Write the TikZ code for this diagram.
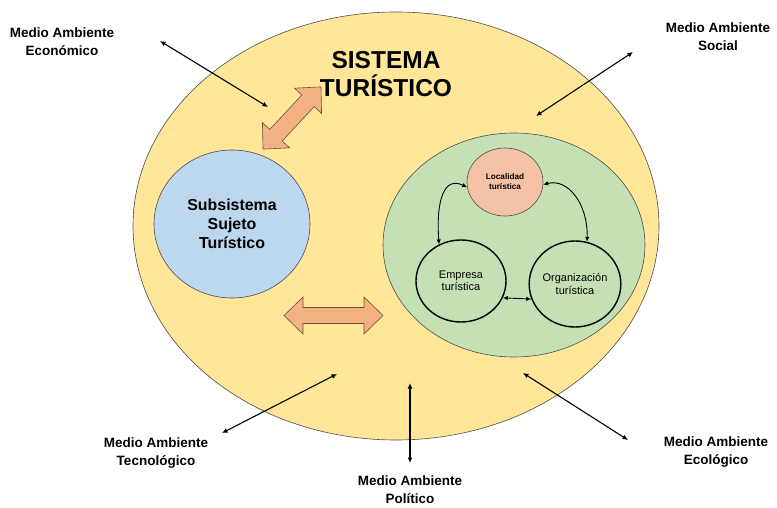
\documentclass[tikz,border=0pt]{standalone}
\usepackage{fontspec}
\setmainfont{Liberation Sans}
\usetikzlibrary{shapes.geometric,arrows.meta}
\definecolor{sisfill}{HTML}{FFE699}
\definecolor{sujfill}{HTML}{BDD7EE}
\definecolor{objfill}{HTML}{C5E0B4}
\definecolor{locfill}{HTML}{F6C2A6}
\definecolor{arrfill}{HTML}{F4B183}
\definecolor{arrline}{HTML}{6E5034}
\tikzset{
  envlabel/.style={font=\bfseries\fontsize{13.5}{18}\selectfont, align=center},
  envarrow/.style={{Latex[length=5.5pt,width=5pt]}-{Latex[length=5.5pt,width=5pt]}, line width=1.1pt},
  relarrow/.style={{Latex[length=5pt,width=4.5pt]}-{Latex[length=5pt,width=4.5pt]}, line width=0.9pt},
  blob/.style={ellipse, inner sep=0pt, draw=black!70, line width=0.6pt},
  subunit/.style={ellipse, inner sep=0pt, draw=black, line width=1.4pt, fill=objfill,
    minimum width=#1, font=\fontsize{11}{12.5}\selectfont, align=center},
  blockarrow/.style={fill=arrfill, draw=arrline, line width=0.6pt},
}
\begin{document}
\begin{tikzpicture}[x=1pt,y=-1pt]
  \useasboundingbox (0,0) rectangle (777,508);
  % system and subsystems
  \node[blob, fill=sisfill, minimum width=526pt, minimum height=428pt] (sistema) at (396,226) {};
  \node[blob, fill=sujfill, minimum width=156pt, minimum height=148pt,
        font=\bfseries\fontsize{15.9}{19}\selectfont, align=center] (sujeto) at (232,224)
        {Subsistema\\Sujeto\\Turístico};
  \node[blob, fill=objfill, minimum width=262pt, minimum height=224pt] (objeto) at (514,245) {};
  \node[font=\bfseries\fontsize{24.5}{28}\selectfont, align=center] (titulo) at (386,74)
        {SISTEMA\\TURÍSTICO};
  % inner units
  \node[blob, fill=locfill, minimum width=76pt, minimum height=68pt,
        font=\bfseries\fontsize{8.2}{10}\selectfont, align=center] (localidad) at (505,182)
        {Localidad\\turística};
  \node[subunit=90pt, minimum height=82pt] (empresa) at (461,281) {Empresa\\turística};
  \node[subunit=86pt, minimum height=86pt] (organizacion) at (575,284) {Organización\\turística};
  \draw[relarrow] (localidad.188) .. controls (444,176) and (436,200) .. (empresa.121);
  \draw[relarrow] (localidad.356) .. controls (568,178) and (588,204) .. (organizacion.74);
  \draw[relarrow] (empresa.-22) -- (organizacion.199);
  % block arrows
  \begin{scope}[shift={(292,118)}, rotate=47]
    \draw[blockarrow] (-42.5,0) -- (-23.5,18.5) -- (-23.5,8.5) -- (23.5,8.5) -- (23.5,18.5)
      -- (42.5,0) -- (23.5,-18.5) -- (23.5,-8.5) -- (-23.5,-8.5) -- (-23.5,-18.5) -- cycle;
  \end{scope}
  \begin{scope}[shift={(333.5,315.5)}]
    \draw[blockarrow] (-49.5,0) -- (-30.5,18.5) -- (-30.5,8) -- (30.5,8) -- (30.5,18.5)
      -- (49.5,0) -- (30.5,-18.5) -- (30.5,-8) -- (-30.5,-8) -- (-30.5,-18.5) -- cycle;
  \end{scope}
  % environments
  \node[envlabel] (economico) at (62,42) {Medio Ambiente\\Económico};
  \node[envlabel] (social) at (718,37) {Medio Ambiente\\Social};
  \node[envlabel] (tecnologico) at (156,453) {Medio Ambiente\\Tecnológico};
  \node[envlabel] (politico) at (410,490) {Medio Ambiente\\Político};
  \node[envlabel] (ecologico) at (716,452) {Medio Ambiente\\Ecológico};
  \coordinate (econ-out) at (160,41);
  \coordinate (econ-in) at (268,107);
  \coordinate (soc-out) at (633,52);
  \coordinate (soc-in) at (536,116);
  \coordinate (tec-out) at (222,433);
  \coordinate (tec-in) at (337,374);
  \coordinate (pol-out) at (410,463);
  \coordinate (pol-in) at (410,383);
  \coordinate (eco-out) at (628,440);
  \coordinate (eco-in) at (523,373);
  \draw[envarrow] (econ-out) -- (econ-in);
  \draw[envarrow] (soc-out) -- (soc-in);
  \draw[envarrow] (tec-out) -- (tec-in);
  \draw[envarrow] (pol-out) -- (pol-in);
  \draw[envarrow] (eco-out) -- (eco-in);
\end{tikzpicture}
\end{document}
